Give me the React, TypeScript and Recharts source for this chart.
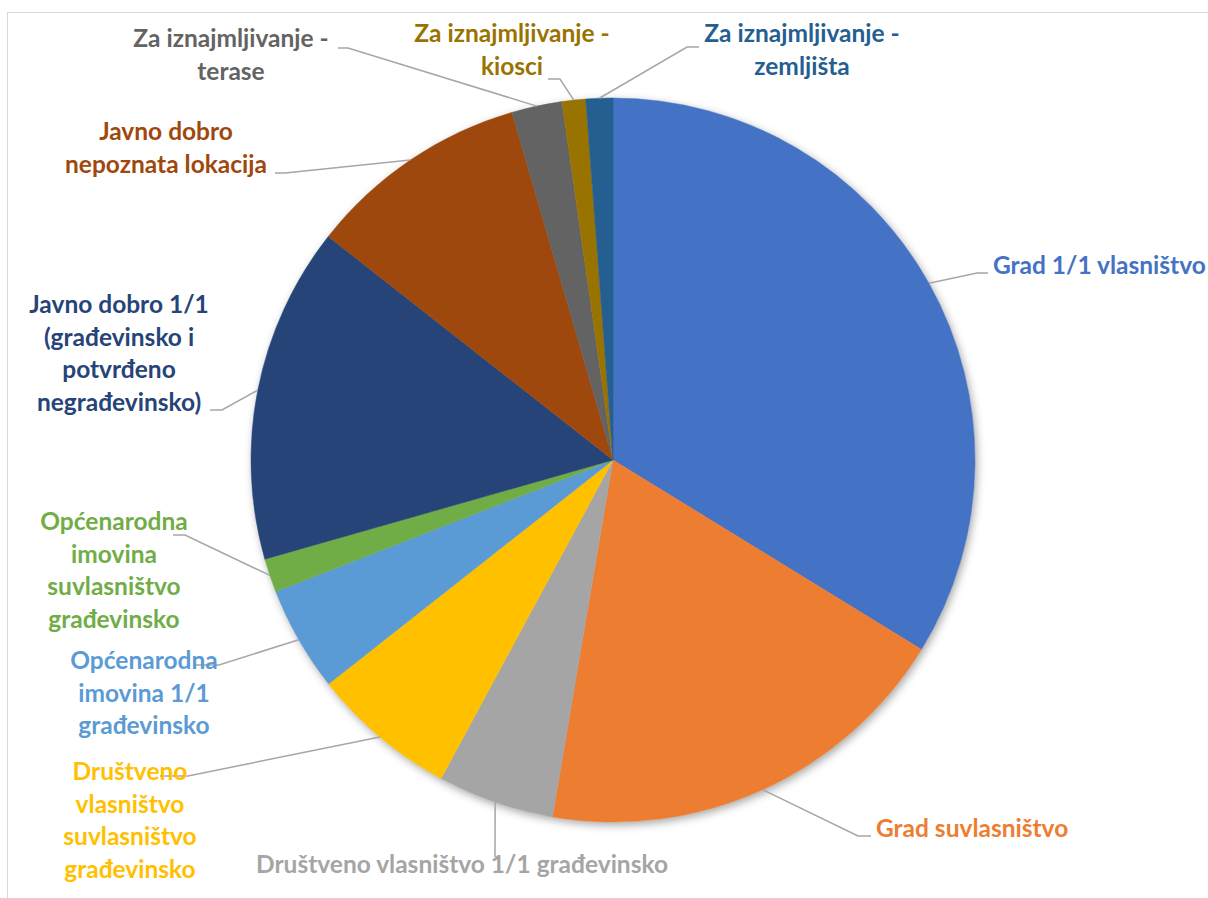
import React from 'react';
import { PieChart, Pie, Cell } from 'recharts';

const categories = [
  'Grad 1/1 vlasništvo',
  'Grad suvlasništvo',
  'Društveno vlasništvo 1/1 građevinsko',
  'Društveno vlasništvo suvlasništvo građevinsko',
  'Općenarodna imovina 1/1 građevinsko',
  'Općenarodna imovina suvlasništvo građevinsko',
  'Javno dobro 1/1 (građevinsko i potvrđeno negrađevinsko)',
  'Javno dobro nepoznata lokacija',
  'Za iznajmljivanje - terase',
  'Za iznajmljivanje - kiosci',
  'Za iznajmljivanje - zemljišta',
];

const values = [33.75, 18.9, 5.2, 6.5, 4.7, 1.5, 15.0, 9.9, 2.25, 1.05, 1.2];

const colors = [
  '#4472C4', '#ED7D31', '#A5A5A5', '#FFC000', '#5B9BD5', '#70AD47',
  '#264478', '#9E480E', '#636363', '#997300', '#255E91',
];

const data = categories.map((name, i) => ({ name, value: values[i] }));

const CX = 613;
const CY = 460;
const R = 362;
const LINE_H = 32.5;
const FONT = 'Lato, "Open Sans", sans-serif';

// label placement relative to the pie centre: words per line, text anchor point,
// leader elbow and end of the short horizontal tail
const labelLayout = [
  { words: [3], anchor: 'start', tx: 380, ty: -186, ex: 364, ey: -187, hx: 375 },
  { words: [2], anchor: 'start', tx: 263, ty: 377, ex: 245, ey: 376, hx: 258 },
  { words: [4], anchor: 'middle', tx: -151, ty: 413, ex: -118, ey: 397, hx: -118 },
  { words: [1, 1, 1, 1], anchor: 'middle', tx: -483, ty: 320, ex: -425, ey: 316, hx: -453 },
  { words: [1, 2, 1], anchor: 'middle', tx: -469, ty: 209, ex: -394, ey: 205, hx: -417 },
  { words: [1, 1, 1, 1], anchor: 'middle', tx: -499, ty: 70, ex: -428, ey: 75, hx: -440 },
  { words: [3, 2, 1, 1], anchor: 'middle', tx: -494, ty: -147, ex: -391, ey: -50, hx: -403 },
  { words: [2, 2], anchor: 'middle', tx: -447, ty: -320, ex: -328, ey: -287, hx: -338 },
  { words: [3, 1], anchor: 'middle', tx: -382, ty: -413, ex: -265, ey: -412, hx: -275 },
  { words: [3, 1], anchor: 'middle', tx: -101, ty: -418, ex: -53, ey: -381, hx: -65 },
  { words: [3, 1], anchor: 'middle', tx: 189, ty: -418, ex: 74, ey: -413, hx: 86 },
];

const RAD = Math.PI / 180;

const renderLabel = (props: any) => {
  const { midAngle, index } = props;
  const cx = props.cx ?? CX;
  const cy = props.cy ?? CY;
  const r = props.outerRadius ?? R;
  const sx = cx + r * Math.cos(-midAngle * RAD);
  const sy = cy + r * Math.sin(-midAngle * RAD);
  const L = labelLayout[index];
  const words = categories[index].split(' ');
  const lines: string[] = [];
  let k = 0;
  for (const n of L.words) {
    lines.push(words.slice(k, k + n).join(' '));
    k += n;
  }
  return (
    <g key={`lbl-${index}`}>
      <polyline
        points={`${sx},${sy} ${cx + L.ex},${cy + L.ey} ${cx + L.hx},${cy + L.ey}`}
        fill="none"
        stroke="#A6A6A6"
        strokeWidth={1.5}
      />
      <text
        x={cx + L.tx}
        y={cy + L.ty}
        textAnchor={L.anchor}
        fill={colors[index]}
        fontFamily={FONT}
        fontWeight={700}
        fontSize={24.5}
      >
        {lines.map((ln, j) => (
          <tspan key={j} x={cx + L.tx} dy={j === 0 ? 0 : LINE_H}>
            {ln}
          </tspan>
        ))}
      </text>
    </g>
  );
};

const App: React.FC = () => {
  return (
    <div style={{ position: 'absolute', left: 0, top: 0, width: 1208, height: 898, overflow: 'hidden', background: '#fff' }}>
      <style>{`.pie-shadow path { filter: drop-shadow(2px 3px 4px rgba(0,0,0,0.35)); }`}</style>
      <div
        style={{
          position: 'absolute',
          left: 7,
          top: 12,
          width: 1220,
          height: 900,
          border: '1px solid #D9D9D9',
        }}
      />
      <div style={{ position: 'absolute', left: 0, top: 0 }}>
        <PieChart width={1208} height={898} margin={{ top: 0, right: 0, bottom: 0, left: 0 }}>
          <Pie
            className="pie-shadow"
            data={[{ name: 'bg', value: 1 }]}
            dataKey="value"
            cx={CX}
            cy={CY}
            outerRadius={R}
            startAngle={90}
            endAngle={-270}
            fill="#ffffff"
            stroke="none"
            isAnimationActive={false}
          />
          <Pie
            data={data}
            dataKey="value"
            nameKey="name"
            cx={CX}
            cy={CY}
            outerRadius={R}
            startAngle={90}
            endAngle={-270}
            label={renderLabel}
            labelLine={false}
            isAnimationActive={false}
          >
            {data.map((entry, index) => (
              <Cell key={`cell-${index}`} fill={colors[index]} stroke={colors[index]} strokeWidth={0.5} />
            ))}
          </Pie>
        </PieChart>
      </div>
    </div>
  );
};

export default App;
